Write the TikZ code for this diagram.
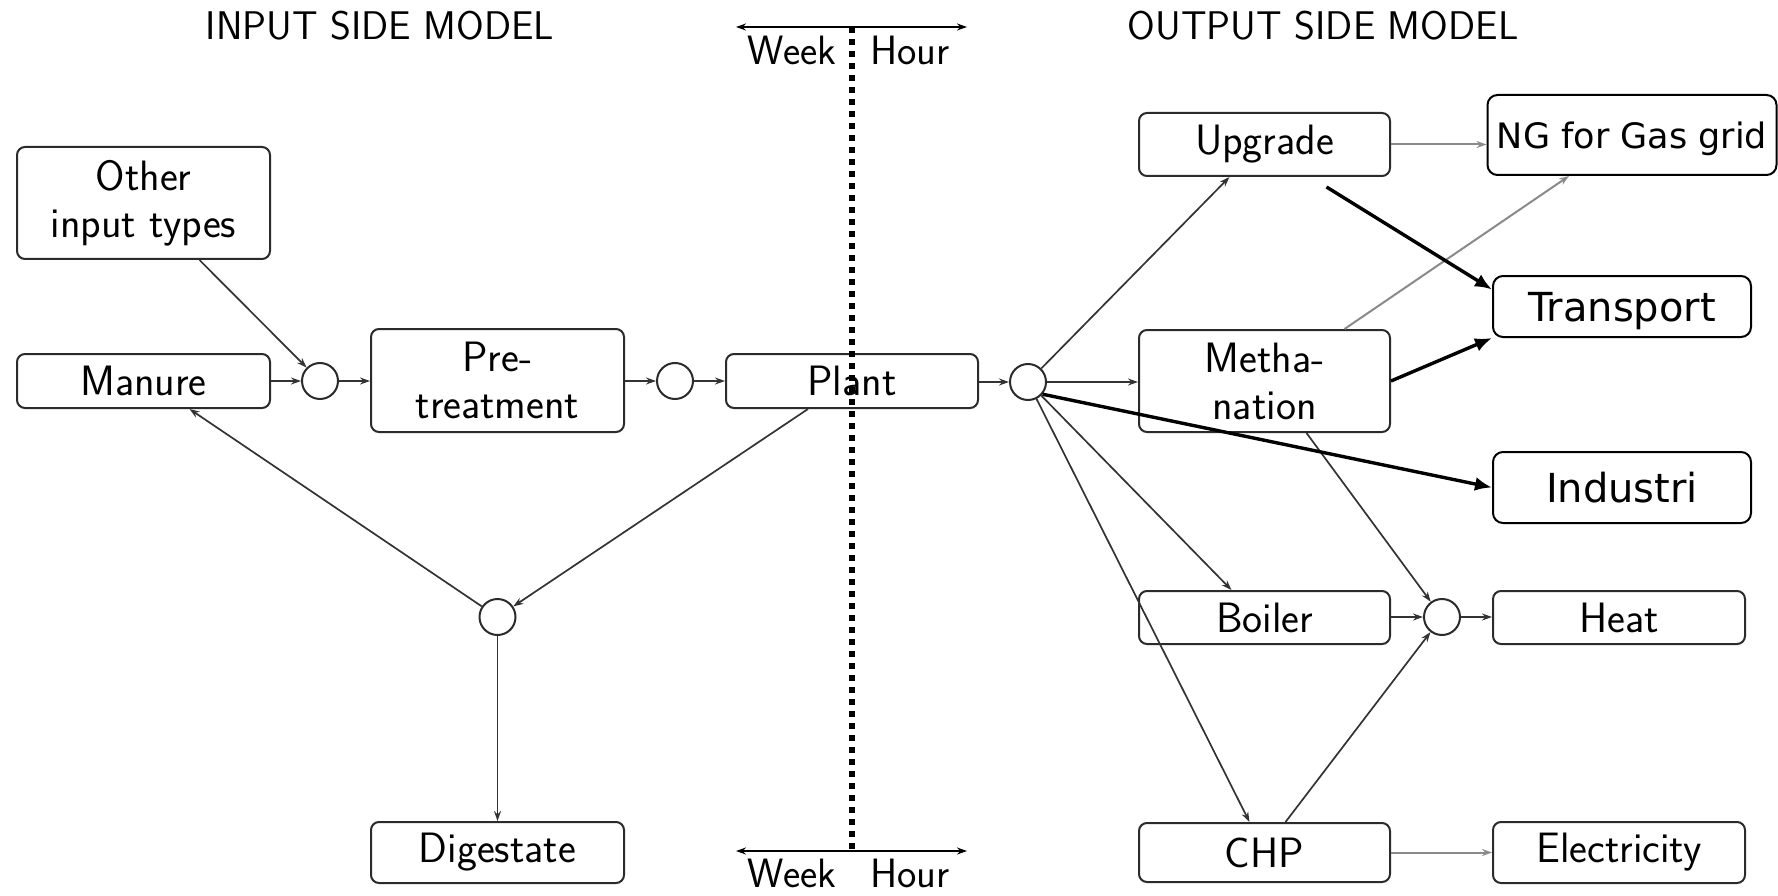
\documentclass[tikz,border=0pt]{standalone}
\usepackage{fontspec}
\newfontfamily\dvsans{DejaVu Sans}
\usetikzlibrary{arrows.meta}
\definecolor{boxc}{HTML}{2B2B2B}
\definecolor{linec}{HTML}{333333}
\definecolor{grayc}{HTML}{8A8A8A}
\begin{document}
\begin{tikzpicture}[x=1pt,y=-1pt,
  lm/.style={font=\sffamily\fontsize{42.5}{47}\selectfont},
  lab/.style={font=\sffamily\fontsize{40}{44}\selectfont, inner sep=0pt, anchor=base},
  wk/.style={font=\sffamily\fontsize{41}{44}\selectfont, inner sep=0pt, anchor=base},
  box/.style={lm, draw=boxc, line width=2pt, rounded corners=8pt, inner sep=0pt, align=center},
  nbox/.style={draw=black, line width=2pt, rounded corners=10pt, inner sep=0pt, align=center, text depth=0pt},
  jn/.style={circle, draw=boxc, line width=2pt, minimum size=36pt, inner sep=0pt},
  conn/.style={draw=linec, line width=1.7pt, -{Stealth[length=10pt,width=7pt]}},
  gconn/.style={conn, draw=grayc, line width=2pt},
  thk/.style={draw=black, line width=3.4pt, -{Latex[length=17pt,width=14pt]}},
  divider/.style={draw=black, line width=6.5pt, dash pattern=on 6pt off 6pt},
  scalearr/.style={draw=black, line width=2pt, {Stealth[length=10pt,width=7pt]}-{Stealth[length=10pt,width=7pt]}}
]
\useasboundingbox (0,0) rectangle (1778,896);

% titles
\node[lab] (tin) at (380,40) {INPUT SIDE MODEL};
\node[lab] (tout) at (1323,40) {OUTPUT SIDE MODEL};

% input side
\node[box, minimum width=253pt, minimum height=112pt] (other) at (143.5,203) {Other\\input types};
\node[box, minimum width=253pt, minimum height=54pt] (manure) at (143.5,381) {Manure};
\node[jn] (c1) at (320,381) {};
\node[box, minimum width=253pt, minimum height=103pt] (pre) at (497.5,380.5) {Pre-\\treatment};
\node[jn] (c2) at (675,381) {};
\node[box, minimum width=252pt, minimum height=54pt] (plant) at (852,381) {Plant};
\node[jn] (c5) at (497.5,617) {};
\node[box, minimum width=253pt, minimum height=61pt] (digest) at (497.5,852.5) {Digestate};

% output side
\node[jn] (c3) at (1028,382) {};
\node[box, minimum width=251pt, minimum height=63pt] (upgrade) at (1264.5,144.5) {Upgrade};
\node[box, minimum width=251pt, minimum height=102pt] (meth) at (1264.5,381) {Metha-\\nation};
\node[box, minimum width=251pt, minimum height=53pt] (boiler) at (1264.5,617.5) {Boiler};
\node[box, minimum width=251pt, minimum height=59pt] (chp) at (1264.5,852.5) {CHP};
\node[jn] (c4) at (1442,617) {};
\node[box, minimum width=252pt, minimum height=53pt] (heat) at (1619,617.5) {Heat};
\node[box, minimum width=252pt, minimum height=61pt] (elec) at (1619,852.5) {Electricity};
\node[nbox, minimum width=289pt, minimum height=80pt, font=\dvsans\fontsize{35}{40}\selectfont] (ng) at (1632,135) {NG for Gas grid};
\node[nbox, minimum width=258pt, minimum height=61pt, font=\dvsans\fontsize{40}{44}\selectfont] (transport) at (1622,306.5) {Transport};
\node[nbox, minimum width=258pt, minimum height=71pt, font=\dvsans\fontsize{40}{44}\selectfont] (industri) at (1622,487.5) {Industri};

% connectors, input side
\draw[conn] ([xshift=56pt]other.south) -- (c1);
\draw[conn] (manure) -- (c1);
\draw[conn] (c1) -- (c1 -| pre.west);
\draw[conn] (pre.east |- c2) -- (c2);
\draw[conn] (c2) -- (plant);
\draw[conn] ([xshift=-44pt]plant.south) -- (c5);
\draw[conn] (c5) -- ([xshift=46pt]manure.south);
\draw[conn] (c5) -- (digest);

% connectors, output side
\draw[conn] (plant.east |- c3) -- (c3);
\draw[conn] (c3) -- ([xshift=-35pt]upgrade.south);
\draw[conn] (c3) -- (c3 -| meth.west);
\draw[conn] (c3) -- ([xshift=-33pt]boiler.north);
\draw[conn] (c3) -- ([xshift=-15pt]chp.north);
\draw[conn] ([xshift=42pt]meth.south) -- (c4);
\draw[conn] ([xshift=21pt]chp.north) -- (c4);
\draw[conn] (boiler.east |- c4) -- (c4);
\draw[conn] (c4) -- (c4 -| heat.west);
\draw[gconn] (chp) -- (elec);
\draw[gconn] (upgrade.east) -- (upgrade.east -| ng.west);
\draw[gconn] ([xshift=80pt]meth.north) -- ([xshift=-63pt]ng.south);
\draw[thk] ([xshift=62pt,yshift=-10pt]upgrade.south) -- ([yshift=17pt]transport.west);
\draw[thk] (meth.east) -- (transport.south west);
\draw[thk] (c3.-40) -- (industri.west);

% time-scale divider
\coordinate (dtop) at (852,27);
\coordinate (dbot) at (852,851);
\coordinate (tl) at (736,27);
\coordinate (tr) at (967,27);
\coordinate (bl) at (736,851);
\coordinate (br) at (967,851);
\draw[scalearr] (tl) -- (tr);
\draw[scalearr] (bl) -- (br);
\draw[divider] (dtop) -- (dbot);
\node[wk] (wk1) at (792,65) {Week};
\node[wk] (hr1) at (910,65) {Hour};
\node[wk] (wk2) at (792,887) {Week};
\node[wk] (hr2) at (910,887) {Hour};
\end{tikzpicture}
\end{document}
